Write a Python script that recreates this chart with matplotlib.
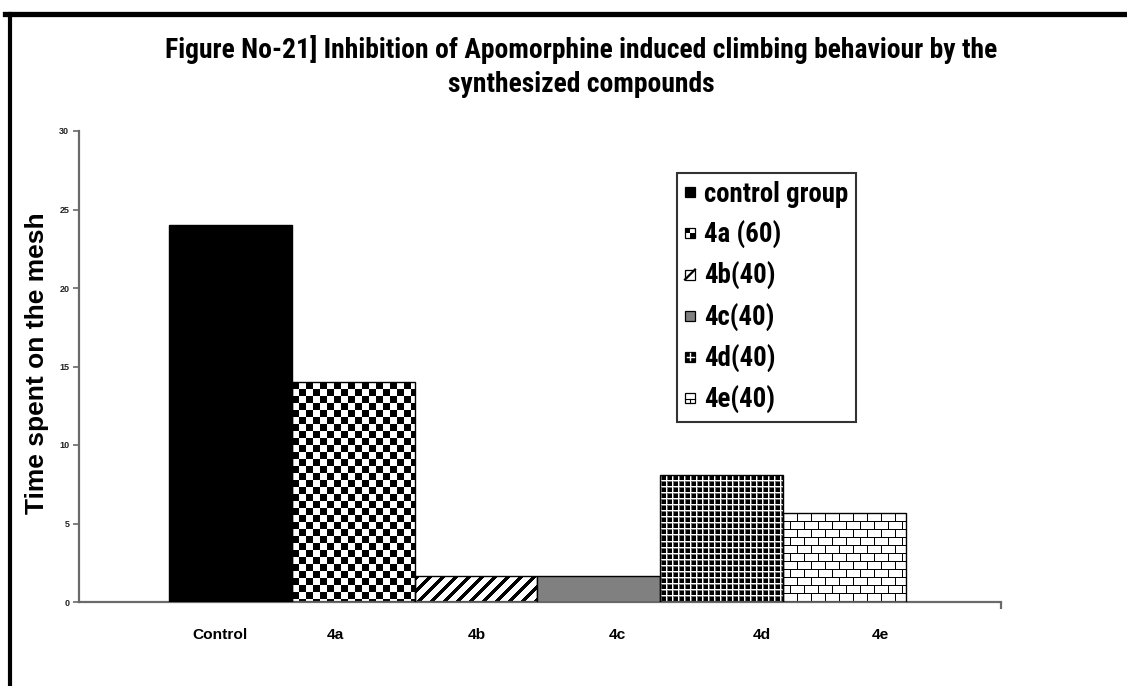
import numpy as np
import matplotlib
matplotlib.use("Agg")
import matplotlib.pyplot as plt
from matplotlib import font_manager
from matplotlib.lines import Line2D
from matplotlib.patches import Rectangle
from matplotlib.legend_handler import HandlerBase
from matplotlib.transforms import blended_transform_factory

# data
groups = ["Control", "4a", "4b", "4c", "4d", "4e"]
legend_labels = ["control group", "4a (60)", "4b(40)", "4c(40)", "4d(40)", "4e(40)"]
time_on_mesh = [24.0, 14.0, 1.65, 1.65, 8.1, 5.65]
y_ticks = [0, 5, 10, 15, 20, 25, 30]

# fill style for each bar
fills = ["black", "checker", "stripes", "gray", "grid", "brick"]
# where the group names sit under the axis (data x)
label_x = [-0.085, 0.852, 2.008, 3.148, 4.329, 5.29]

# pick a narrow bold face if one is installed, else plain Liberation Sans
installed = font_manager.fontManager.ttflist
narrow, stretch = "Liberation Sans", "normal"
for f in installed:
    if f.name in ("Liberation Sans Narrow", "Roboto Condensed", "Open Sans Condensed"):
        narrow, stretch = f.name, "normal"
        break
else:
    for f in installed:
        if f.stretch in ("condensed", "semi-condensed") and f.name in (
                "DejaVu Sans", "Roboto", "Open Sans", "Noto Sans", "Liberation Sans"):
            narrow, stretch = f.name, f.stretch
            break
sans = "Liberation Sans"

W, H = 1127, 686
fig = plt.figure(figsize=(W / 100, H / 100), dpi=100)
renderer = fig.canvas.get_renderer()
ax = fig.add_axes([79 / W, (H - 602) / H, (1001 - 79) / W, (602 - 131) / H])
ax.set_xlim(-1.233, 6.274)
ax.set_ylim(0, 30)


def fit(txt, target_px, horizontal=True):
    # scale a text's size so it spans target_px
    bb = txt.get_window_extent(renderer)
    span = bb.width if horizontal else bb.height
    txt.set_fontsize(txt.get_fontsize() * target_px / span)
    return txt


x = np.arange(len(groups))
solid = {"black": "black", "gray": "#808080"}
bars = ax.bar(x, time_on_mesh, width=1.0, edgecolor="black", linewidth=1.0,
              facecolor="none", zorder=3)


def texture(kind, h, w):
    i, j = np.mgrid[0:h, 0:w]
    if kind == "checker":
        return (((i // 7) + (j // 7)) % 2).astype(float)
    if kind == "stripes":
        return np.where((i + j) % 13 < 5, 0.0, 1.0)
    if kind == "grid":
        v = np.zeros((h, w))
        v[(i % 6 == 1) | (j % 6 == 1)] = 0.45
        v[(i % 6 == 0) | (j % 6 == 0)] = 1.0
        return v
    if kind == "brick":
        off = np.where((i // 8) % 2 == 0, 0, 7)
        v = np.ones((h, w))
        v[(i % 8 == 0) | ((j + off) % 14 == 0)] = 0.0
        return v
    return np.ones((h, w))


for bar, kind in zip(bars, fills):
    if kind in solid:
        bar.set_facecolor(solid[kind])
        continue
    x0, x1 = bar.get_x(), bar.get_x() + bar.get_width()
    y0, y1 = 0, bar.get_height()
    p0 = ax.transData.transform((x0, y0))
    p1 = ax.transData.transform((x1, y1))
    w = max(int(round(p1[0] - p0[0])), 1)
    h = max(int(round(p1[1] - p0[1])), 1)
    im = ax.imshow(texture(kind, h, w), extent=(x0, x1, y0, y1), origin="upper",
                   cmap="gray", vmin=0, vmax=1, interpolation="nearest",
                   aspect="auto", zorder=2)
    im.set_clip_path(bar)

ax.set_xlim(-1.233, 6.274)
ax.set_ylim(0, 30)

# axes styling
for side in ["top", "right"]:
    ax.spines[side].set_visible(False)
for side in ["left", "bottom"]:
    ax.spines[side].set_color("#6a6a6a")
    ax.spines[side].set_linewidth(1.6)
ax.set_yticks(y_ticks)
ax.tick_params(axis="y", direction="out", length=4, width=1.2, color="#6a6a6a",
               labelsize=6.5, pad=3, labelcolor="#222222")
for t in ax.get_yticklabels():
    t.set_fontweight("bold")
    t.set_family(sans)
ax.set_xticks([6.274])
ax.set_xticklabels([""])
ax.tick_params(axis="x", direction="out", length=5, width=1.6, color="#6a6a6a")

# group names under the axis
tr = blended_transform_factory(ax.transData, ax.transAxes)
names = [ax.text(gx, -0.07, name, transform=tr, ha="center", va="center",
                 fontsize=9, fontweight="heavy", family=sans, color="black")
         for gx, name in zip(label_x, groups)]
name_size = fit(names[0], 55).get_fontsize()
for t in names:
    t.set_fontsize(name_size)

# titles
t1 = fig.text(581 / W, 1 - 50 / H,
              "Figure No-21] Inhibition of Apomorphine induced climbing behaviour by the",
              ha="center", va="center", fontsize=17, fontweight="bold",
              family=narrow, fontstretch=stretch)
fit(t1, 834)
fig.text(581 / W, 1 - 85 / H, "synthesized compounds", ha="center", va="center",
         fontsize=t1.get_fontsize(), fontweight="bold", family=narrow,
         fontstretch=stretch)
ylab = fig.text(37 / W, 1 - 363 / H, "Time spent on the mesh", rotation=90,
                ha="center", va="center", fontsize=16, fontweight="bold", family=sans)
fit(ylab, 300, horizontal=False)


# legend keys: tiny squares with a hint of each fill
class LegendKey:
    def __init__(self, kind):
        self.kind = kind


class KeyHandler(HandlerBase):
    def create_artists(self, legend, orig_handle, xdescent, ydescent, width,
                       height, fontsize, trans):
        s = min(width, height)
        x0 = -xdescent + (width - s) / 2
        y0 = -ydescent + (height - s) / 2
        k = orig_handle.kind
        fc = {"black": "black", "gray": "#808080", "grid": "black"}.get(k, "white")
        arts = [Rectangle((x0, y0), s, s, facecolor=fc, edgecolor="black",
                          linewidth=0.9, transform=trans)]
        if k == "checker":
            arts.append(Rectangle((x0, y0 + s / 2), s / 2, s / 2, facecolor="black",
                                  edgecolor="none", transform=trans))
            arts.append(Rectangle((x0 + s / 2, y0), s / 2, s / 2, facecolor="black",
                                  edgecolor="none", transform=trans))
        elif k == "stripes":
            arts.append(Line2D([x0, x0 + s], [y0, y0 + s], color="black",
                               linewidth=1.6, transform=trans))
        elif k == "grid":
            arts.append(Line2D([x0 + s / 2] * 2, [y0 + 0.15 * s, y0 + 0.85 * s],
                               color="white", linewidth=1.0, transform=trans))
            arts.append(Line2D([x0 + 0.15 * s, x0 + 0.85 * s], [y0 + s / 2] * 2,
                               color="white", linewidth=1.0, transform=trans))
        elif k == "brick":
            arts.append(Line2D([x0, x0 + s], [y0 + 0.4 * s] * 2, color="black",
                               linewidth=0.8, transform=trans))
            arts.append(Line2D([x0 + s / 2] * 2, [y0, y0 + 0.4 * s], color="black",
                               linewidth=0.8, transform=trans))
        return arts


# size the legend text from its widest entry
probe = fig.text(0, 0, legend_labels[0], fontsize=17, fontweight="bold",
                 family=narrow, fontstretch=stretch)
fit(probe, 145)
leg_fs = probe.get_fontsize()
row_h = probe.get_window_extent(renderer).height
probe.remove()
fs_px = leg_fs * 100 / 72

handles = [LegendKey(k) for k in fills]
leg = ax.legend(handles, legend_labels, handler_map={LegendKey: KeyHandler()},
                loc="upper left", bbox_to_anchor=(677 / W, 1 - 173 / H),
                bbox_transform=fig.transFigure, frameon=True, fancybox=False,
                framealpha=1, edgecolor="#333333", borderaxespad=0,
                borderpad=8 / fs_px, labelspacing=(40 - row_h) / fs_px,
                handlelength=10 / fs_px, handleheight=10 / fs_px,
                handletextpad=9 / fs_px,
                prop={"family": narrow, "weight": "bold", "size": leg_fs,
                      "stretch": stretch})
leg.get_frame().set_linewidth(1.5)
leg.set_zorder(5)

# frame lines around the figure
fig.add_artist(Line2D([5 / W, 1], [1 - 13.5 / H] * 2, color="black",
                      linewidth=3.8, transform=fig.transFigure))
fig.add_artist(Line2D([9.5 / W] * 2, [0, 1 - 13.5 / H], color="black",
                      linewidth=3.0, transform=fig.transFigure))

fig.savefig("out.png", dpi=100)
